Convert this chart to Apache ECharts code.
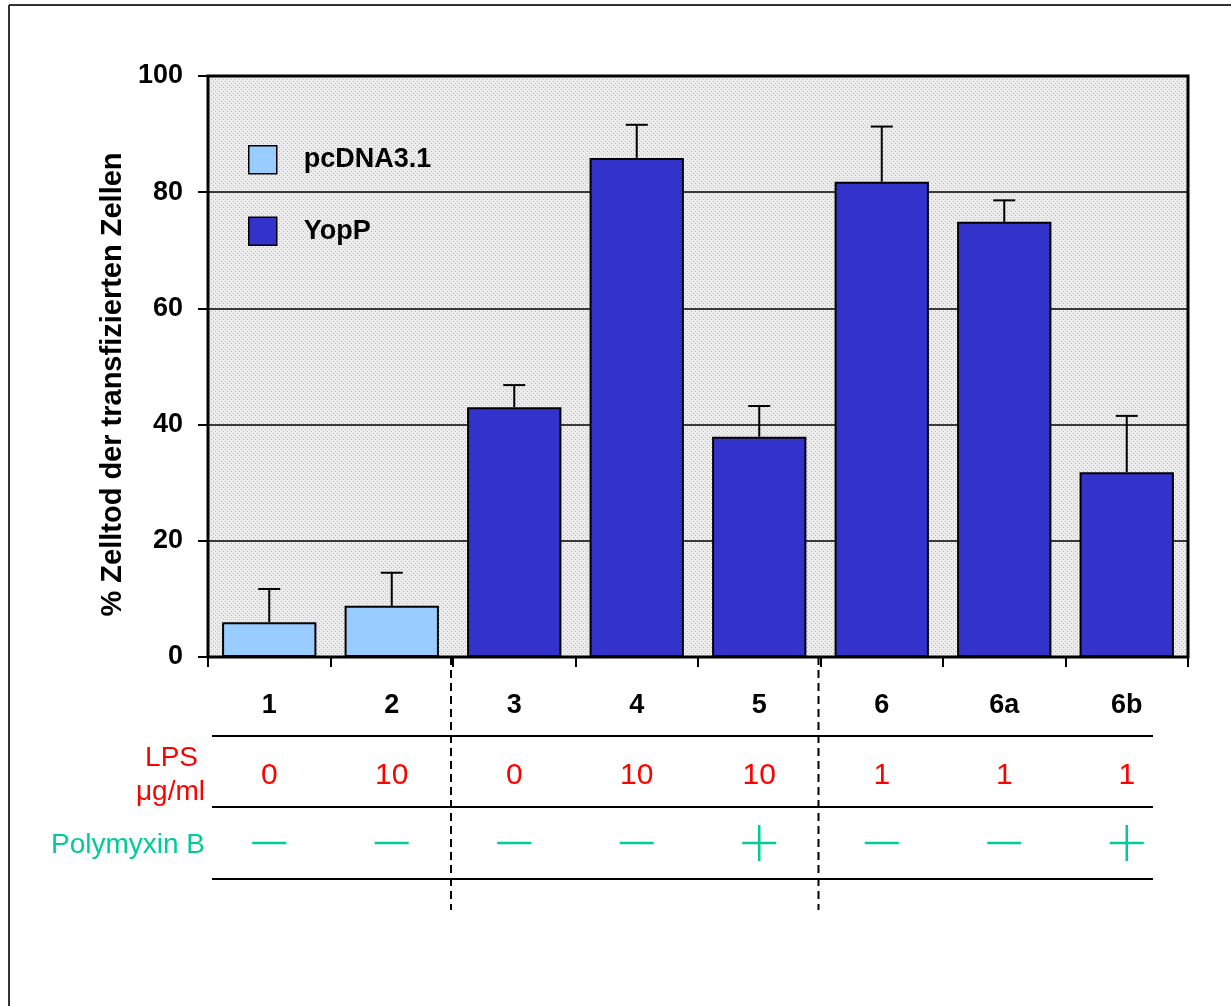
<!DOCTYPE html>
<html>
<head>
<meta charset="utf-8">
<script src="https://cdn.jsdelivr.net/npm/echarts@6/dist/echarts.min.js"></script>
<style>
  html, body { margin: 0; padding: 0; background: #fff; }
  #chart { width: 1231px; height: 1006px; }
</style>
</head>
<body>
<div id="chart"></div>
<script>
// Versuchsgruppen
const categories = ['1', '2', '3', '4', '5', '6', '6a', '6b'];
// Mittelwerte (% Zelltod), je Transfektion
const pcdnaValues = [6.0, 8.8, '-', '-', '-', '-', '-', '-'];
const yoppValues = ['-', '-', 43.0, 85.9, 37.9, 81.8, 74.9, 31.8];
// Standardabweichung (nur obere Fehlerbalken)
const errorValues = [5.7, 5.7, 3.8, 5.7, 5.3, 9.5, 3.7, 9.7];
// LPS-Konzentration in µg/ml
const lpsValues = ['0', '10', '0', '10', '10', '1', '1', '1'];
// Polymyxin B: false = ohne, true = mit
const polymyxin = [false, false, false, false, true, false, false, true];
const yTicks = [0, 20, 40, 60, 80, 100];

const FONT = '"Liberation Sans", Arial, Helvetica, sans-serif';
const RED = '#ff0000';
const TEAL = '#00cc99';

// gepunkteter Hintergrund der Zeichenfläche
const pat = document.createElement('canvas');
pat.width = 4; pat.height = 4;
const pctx = pat.getContext('2d');
pctx.fillStyle = '#ececec';
pctx.fillRect(0, 0, 4, 4);
pctx.fillStyle = '#b8b8b8';
pctx.fillRect(1, 1, 1, 1);
pctx.fillRect(3, 3, 1, 1);

const chart = echarts.init(document.getElementById('chart'), null, { renderer: 'canvas' });

const meanValues = categories.map((c, i) => (pcdnaValues[i] !== '-' ? pcdnaValues[i] : yoppValues[i]));

const option = {
  animation: false,
  backgroundColor: '#ffffff',
  textStyle: { fontFamily: FONT },
  grid: {
    left: 208, top: 76, width: 980, height: 581,
    show: true,
    backgroundColor: { image: pat, repeat: 'repeat' },
    borderColor: '#000', borderWidth: 3
  },
  legend: {
    orient: 'vertical',
    left: 248, top: 145,
    padding: 0,
    icon: 'rect',
    itemWidth: 28, itemHeight: 28, itemGap: 42,
    selectedMode: false,
    itemStyle: { borderColor: '#000', borderWidth: 1.5 },
    textStyle: { fontFamily: FONT, fontSize: 27, fontWeight: 'bold', color: '#000', padding: [6, 0, 0, 22] },
    data: ['pcDNA3.1', 'YopP']
  },
  xAxis: [
    {
      type: 'category',
      data: categories,
      position: 'bottom',
      axisLine: { lineStyle: { color: '#000', width: 2 } },
      axisTick: { show: true, length: 10, lineStyle: { color: '#000', width: 2 }, alignWithLabel: false },
      axisLabel: { fontFamily: FONT, fontSize: 27, fontWeight: 'bold', color: '#000', margin: 35, interval: 0 },
      splitLine: { show: false }
    },
    {
      type: 'category',
      data: categories,
      position: 'bottom',
      offset: 104,
      axisLine: { show: false },
      axisTick: { show: false },
      axisLabel: {
        fontFamily: FONT, fontSize: 30, color: RED, margin: 0, interval: 0,
        formatter: (v, i) => lpsValues[i]
      }
    }
  ],
  yAxis: {
    type: 'value',
    min: 0, max: 100, interval: 20,
    name: '% Zelltod der transfizierten Zellen',
    nameLocation: 'middle',
    nameRotate: 90,
    nameGap: 57,
    nameTextStyle: { fontFamily: FONT, fontSize: 29, fontWeight: 'bold', color: '#000', padding: [0, 36, 0, 0] },
    axisLine: { show: true, lineStyle: { color: '#000', width: 2 } },
    axisTick: { show: true, length: 10, lineStyle: { color: '#000', width: 2 } },
    axisLabel: {
      fontFamily: FONT, fontSize: 27, fontWeight: 'bold', color: '#000', margin: 25,
      formatter: v => (yTicks.indexOf(v) >= 0 ? String(v) : '')
    },
    splitLine: { show: true, lineStyle: { color: '#000', width: 1.5 } }
  },
  series: [
    {
      name: 'pcDNA3.1',
      type: 'bar',
      data: pcdnaValues,
      barWidth: '77%',
      barGap: '-100%',
      itemStyle: { color: '#99ccff', borderColor: '#000', borderWidth: 2 },
      z: 3
    },
    {
      name: 'YopP',
      type: 'bar',
      data: yoppValues,
      barWidth: '77%',
      itemStyle: { color: '#3333cc', borderColor: '#000', borderWidth: 2 },
      z: 3
    },
    {
      name: 'SD',
      type: 'custom',
      data: meanValues.map((m, i) => [i, m, m + errorValues[i]]),
      encode: { x: 0, y: [1, 2] },
      z: 4,
      silent: true,
      renderItem: function (params, api) {
        const i = api.value(0);
        const base = api.coord([i, api.value(1)]);
        const top = api.coord([i, api.value(2)]);
        const cap = 11;
        const st = { stroke: '#000', lineWidth: 2 };
        return {
          type: 'group',
          children: [
            { type: 'line', shape: { x1: base[0], y1: base[1], x2: top[0], y2: top[1] }, style: st },
            { type: 'line', shape: { x1: top[0] - cap, y1: top[1], x2: top[0] + cap, y2: top[1] }, style: st }
          ]
        };
      }
    }
  ]
};

chart.setOption(option);

// Tabelle unter der Achse: Linien, Zeilentitel, Polymyxin-Symbole
const cx = categories.map((c, i) => chart.convertToPixel({ xAxisIndex: 0 }, i));
const elements = [];
const lineStyle = { stroke: '#000', lineWidth: 2 };

// Rahmen oben und links
elements.push({ type: 'line', shape: { x1: 9, y1: 5, x2: 1231, y2: 5 }, style: { stroke: '#333', lineWidth: 2 } });
elements.push({ type: 'line', shape: { x1: 9, y1: 5, x2: 9, y2: 1006 }, style: { stroke: '#333', lineWidth: 2 } });

[736, 807, 879].forEach(y => {
  elements.push({ type: 'line', shape: { x1: 212, y1: y, x2: 1153, y2: y }, style: lineStyle });
});

// gestrichelte Trennlinien zwischen Gruppen (nach 2 und nach 5)
[1, 4].forEach(i => {
  const x = (cx[i] + cx[i + 1]) / 2 - 2;
  elements.push({
    type: 'line', shape: { x1: x, y1: 657, x2: x, y2: 910 },
    style: { stroke: '#000', lineWidth: 2, lineDash: [8, 5] }
  });
});

elements.push({ type: 'text', x: 198, y: 758, style: { text: 'LPS', font: '28px ' + FONT, fill: RED, textAlign: 'right', textVerticalAlign: 'middle' } });
elements.push({ type: 'text', x: 205, y: 792, style: { text: 'μg/ml', font: '28px ' + FONT, fill: RED, textAlign: 'right', textVerticalAlign: 'middle' } });
elements.push({ type: 'text', x: 205, y: 845, style: { text: 'Polymyxin B', font: '28px ' + FONT, fill: TEAL, textAlign: 'right', textVerticalAlign: 'middle' } });

const symY = 843;
polymyxin.forEach((on, i) => {
  const x = cx[i];
  const st = { stroke: TEAL, lineWidth: 2.5 };
  elements.push({ type: 'line', shape: { x1: x - 17, y1: symY, x2: x + 17, y2: symY }, style: st });
  if (on) {
    elements.push({ type: 'line', shape: { x1: x, y1: symY - 18, x2: x, y2: symY + 18 }, style: st });
  }
});

chart.setOption({ graphic: { elements: elements } });
</script>
</body>
</html>
